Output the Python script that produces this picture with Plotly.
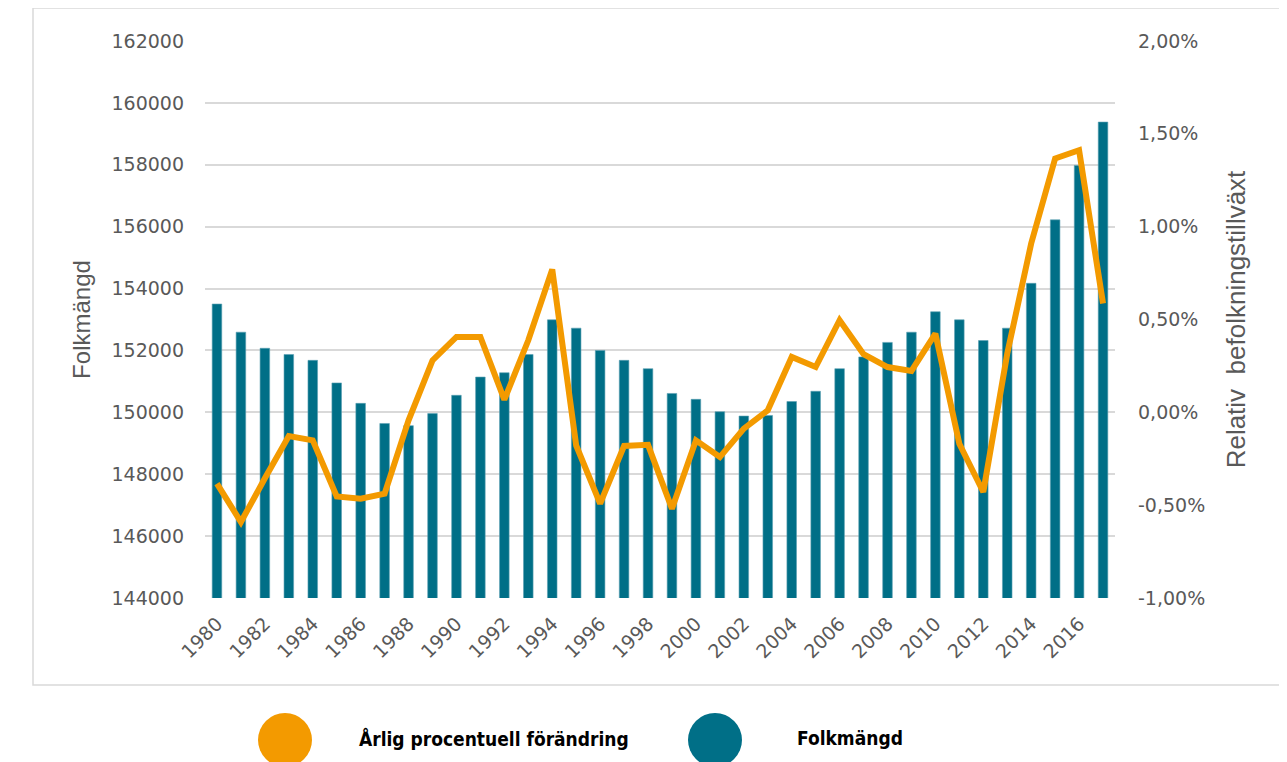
import plotly.graph_objects as go

years = list(range(1980, 2018))
folkmangd = [153500, 152590, 152070, 151870, 151680, 150950, 150290, 149640, 149570, 149960,
             150550, 151140, 151280, 151870, 152990, 152720, 152000, 151680, 151410, 150610,
             150420, 150020, 149880, 149900, 150350, 150680, 151410, 151790, 152260, 152590,
             153250, 152990, 152320, 152720, 154170, 156220, 157980, 159380]
forandring = [-0.384, -0.591, -0.355, -0.128, -0.151, -0.453, -0.465, -0.438, -0.043, 0.280,
              0.406, 0.406, 0.068, 0.388, 0.770, -0.178, -0.492, -0.181, -0.175, -0.519,
              -0.151, -0.241, -0.088, 0.011, 0.298, 0.244, 0.496, 0.313, 0.244, 0.223,
              0.424, -0.169, -0.429, 0.316, 0.909, 1.367, 1.412, 0.586]
forandring = [v / 100 for v in forandring]

left_ticks = [144000, 146000, 148000, 150000, 152000, 154000, 156000, 158000, 160000, 162000]
left_labels = [str(v) for v in left_ticks]
right_ticks = [-0.01, -0.005, 0.0, 0.005, 0.01, 0.015, 0.02]
right_labels = ["-1,00%", "-0,50%", "0,00%", "0,50%", "1,00%", "1,50%", "2,00%"]
x_ticks = list(range(1980, 2018, 2))
x_labels = [str(y) for y in x_ticks]

legend_names = ["Årlig procentuell förändring", "Folkmängd"]

TEAL = "#006F87"
ORANGE = "#F39A00"
GRAY = "#595959"
GRID = "#D9D9D9"
TICKFONT = dict(family="DejaVu Sans", size=19, color=GRAY)
LTITLEFONT = dict(family="Liberation Sans", size=24, color=GRAY)
RTITLEFONT = dict(family="Liberation Sans", size=26, color=GRAY)

# page body has an 8px margin: figure placed at (8, 8)
OFF = 8
FIG_W, FIG_H = 1287 - OFF, 762 - OFF

fig = go.Figure()
fig.add_trace(go.Bar(x=years, y=folkmangd, name=legend_names[1], marker_color=TEAL,
                     marker_line=dict(color="#5aa0b2", width=0.6), width=0.4, yaxis="y"))
fig.add_trace(go.Scatter(x=years, y=forandring, name=legend_names[0], mode="lines",
                         line=dict(color=ORANGE, width=6), yaxis="y2"))

fig.update_layout(
    width=FIG_W, height=FIG_H,
    margin=dict(l=205 - OFF, r=172, t=41 - OFF, b=164, autoexpand=False),
    paper_bgcolor="white", plot_bgcolor="white",
    showlegend=False,
    xaxis=dict(range=[1979.5, 2017.5], tickvals=x_ticks, ticktext=x_labels, tickangle=-45,
               tickfont=TICKFONT, showgrid=False, zeroline=False, showline=False,
               ticks="", ticklabelstandoff=10),
    yaxis=dict(range=[144000, 162000], tickvals=left_ticks, ticktext=left_labels,
               tickfont=TICKFONT, showgrid=True, gridcolor=GRID, gridwidth=2,
               zeroline=False, showline=False, ticks="", ticklabelstandoff=20,
               title=dict(text="Folkmängd", font=LTITLEFONT, standoff=14)),
    yaxis2=dict(range=[-0.01, 0.02], tickvals=right_ticks, ticktext=right_labels,
                overlaying="y", side="right", tickfont=TICKFONT, showgrid=False,
                zeroline=False, showline=False, ticks="", ticklabelstandoff=22,
                title=dict(text="Relativ\u00a0 befolkningstillväxt", font=RTITLEFONT, standoff=22)),
)

# helpers: page-pixel -> paper coordinates
W, H = 910.0, 557.0
def px(x):
    return (x - 205) / W
def py(y):
    return (598 - y) / H

# outer chart border
fig.add_shape(type="rect", xref="paper", yref="paper", x0=px(33), x1=px(1282), y0=py(685), y1=py(8),
              line=dict(color=GRID, width=1.5), fillcolor="rgba(0,0,0,0)", layer="below")

# custom legend below chart
legend_items = [(legend_names[0], ORANGE, 285, 357), (legend_names[1], TEAL, 715, 795)]
for name, col, cx, tx in legend_items:
    fig.add_shape(type="circle", xref="paper", yref="paper", xsizemode="pixel", ysizemode="pixel",
                  xanchor=px(cx), yanchor=py(740), x0=-27, x1=27, y0=-27, y1=27,
                  fillcolor=col, line=dict(color=col, width=0))
    fig.add_annotation(xref="paper", yref="paper", x=px(tx), y=py(738), text="<b>%s</b>" % name,
                       showarrow=False, xanchor="left", yanchor="middle",
                       font=dict(family="DejaVu Sans Condensed, DejaVu Sans", size=19, color="#000000"))

fig.write_html("out.html")
